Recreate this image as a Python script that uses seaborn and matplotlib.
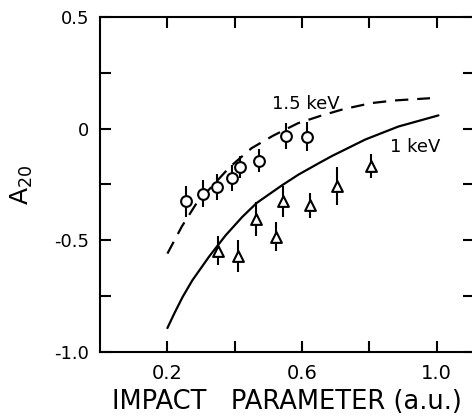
import matplotlib
matplotlib.use('Agg')
import matplotlib.pyplot as plt
import seaborn as sns

sns.set_style("ticks")
plt.rcParams['font.family'] = ['DejaVu Sans']
plt.rcParams['axes.unicode_minus'] = False
for key in ['text.color', 'axes.labelcolor', 'xtick.color', 'ytick.color', 'axes.edgecolor']:
    plt.rcParams[key] = 'black'

# 1.5 keV data (circles)
circ_x = [0.254, 0.307, 0.348, 0.393, 0.417, 0.472, 0.551, 0.615]
circ_y = [-0.326, -0.292, -0.261, -0.221, -0.171, -0.143, -0.032, -0.035]
circ_err = [0.07, 0.06, 0.06, 0.06, 0.05, 0.05, 0.06, 0.065]

# 1 keV data (triangles)
tri_x = [0.351, 0.410, 0.462, 0.524, 0.544, 0.625, 0.704, 0.805]
tri_y = [-0.548, -0.571, -0.405, -0.485, -0.325, -0.344, -0.258, -0.168]
tri_err = [0.065, 0.07, 0.075, 0.065, 0.07, 0.055, 0.085, 0.055]

# theory curves
dash_x = [0.20, 0.243, 0.287, 0.385, 0.45, 0.514, 0.588, 0.655, 0.723, 0.805, 0.875, 0.98]
dash_y = [-0.56, -0.438, -0.333, -0.172, -0.087, -0.031, 0.025, 0.058, 0.088, 0.115, 0.127, 0.137]
solid_x = [0.20, 0.22, 0.245, 0.274, 0.324, 0.373, 0.422, 0.465, 0.541, 0.59, 0.649,
           0.689, 0.788, 0.886, 1.005]
solid_y = [-0.894, -0.83, -0.755, -0.68, -0.573, -0.478, -0.396, -0.333, -0.253, -0.205, -0.155,
           -0.122, -0.048, 0.010, 0.060]

y_ticks = [0.5, 0.25, 0.0, -0.25, -0.5, -0.75, -1.0]
y_labels = ['0.5', '', '0', '', '-0.5', '', '-1.0']
x_ticks = [0.2, 0.4, 0.6, 0.8, 1.0]
x_labels = ['0.2', '', '0.6', '', '1.0']

fig = plt.figure(figsize=(4.72, 4.16), dpi=100)
ax = fig.add_axes([0.212, 0.1546, 0.7918, 0.8038])

sns.lineplot(x=solid_x, y=solid_y, ax=ax, color='black', lw=1.6)
sns.lineplot(x=dash_x, y=dash_y, ax=ax, color='black', lw=1.6,
             linestyle=(0, (6, 4)))

ax.errorbar(circ_x, circ_y, yerr=circ_err, fmt='none', ecolor='black',
            elinewidth=1.5, capsize=0, zorder=3)
ax.errorbar(tri_x, tri_y, yerr=tri_err, fmt='none', ecolor='black',
            elinewidth=1.5, capsize=0, zorder=3)
sns.scatterplot(x=circ_x, y=circ_y, ax=ax, marker='o', s=60, color='white',
                edgecolor='black', linewidth=1.5, zorder=4)
sns.scatterplot(x=tri_x, y=tri_y, ax=ax, marker='^', s=60, color='white',
                edgecolor='black', linewidth=1.5, zorder=4)

ax.text(0.612, 0.109, '1.5 keV', fontsize=13, ha='center', va='center')
ax.text(0.936, -0.084, '1 keV', fontsize=13, ha='center', va='center')

ax.set_xlim(0, 1.11)
ax.set_ylim(-1.0, 0.5)
ax.set_xticks(x_ticks)
ax.set_xticklabels(x_labels)
ax.set_yticks(y_ticks)
ax.set_yticklabels(y_labels)
ax.tick_params(direction='in', length=8, width=1.5, labelsize=13,
               top=True, right=True, pad=8)
ax.tick_params(axis='x', pad=9, labelsize=14)
for sp in ax.spines.values():
    sp.set_linewidth(1.5)
    sp.set_visible(True)

ax.set_xlabel('IMPACT   PARAMETER (a.u.)', fontsize=18.5, labelpad=4)
ax.set_ylabel('A$_{20}$', fontsize=18, labelpad=14)

fig.savefig('out.png', dpi=100)
